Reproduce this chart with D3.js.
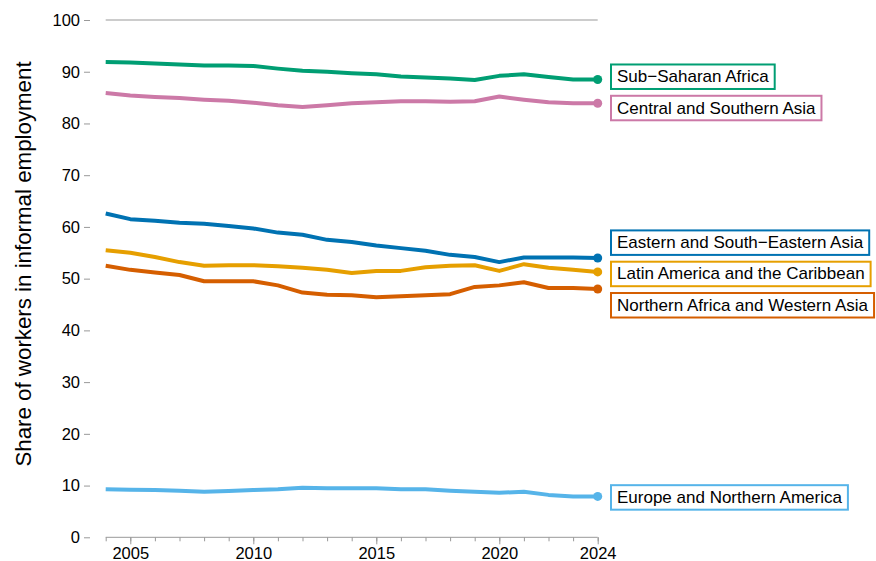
<!DOCTYPE html>
<html>
<head>
<meta charset="utf-8">
<script src="https://cdn.jsdelivr.net/npm/d3@7"></script>
<style>
  html, body { margin: 0; padding: 0; background: #fff; }
  svg { display: block; font-family: "Liberation Sans", Arial, Helvetica, sans-serif; }
</style>
</head>
<body>
<svg id="chart" width="876" height="561"></svg>
<script>
const years = d3.range(2004, 2025);
const regions = [
  "Sub\u2212Saharan Africa",
  "Central and Southern Asia",
  "Eastern and South\u2212Eastern Asia",
  "Latin America and the Caribbean",
  "Northern Africa and Western Asia",
  "Europe and Northern America"
];
const colors = ["#009E73", "#CC79A7", "#0072B2", "#E69F00", "#D55E00", "#56B4E9"];
const subSaharan = [91.9, 91.8, 91.6, 91.4, 91.2, 91.2, 91.1, 90.6, 90.2, 90.0, 89.7, 89.5, 89.1, 88.9, 88.7, 88.4, 89.2, 89.5, 89.0, 88.5, 88.5];
const centralSouthernAsia = [85.9, 85.4, 85.1, 84.9, 84.6, 84.4, 84.0, 83.5, 83.2, 83.5, 83.9, 84.1, 84.3, 84.3, 84.2, 84.3, 85.2, 84.6, 84.1, 83.9, 83.9];
const easternSEAsia = [62.6, 61.5, 61.2, 60.8, 60.6, 60.2, 59.7, 58.9, 58.5, 57.5, 57.1, 56.4, 55.9, 55.4, 54.6, 54.2, 53.2, 54.1, 54.1, 54.1, 54.0];
const latinAmerica = [55.5, 55.0, 54.2, 53.2, 52.5, 52.6, 52.6, 52.4, 52.1, 51.7, 51.1, 51.5, 51.5, 52.2, 52.5, 52.6, 51.5, 52.8, 52.1, 51.7, 51.3];
const northAfricaWAsia = [52.5, 51.7, 51.2, 50.7, 49.5, 49.5, 49.5, 48.7, 47.3, 46.9, 46.8, 46.4, 46.6, 46.8, 47.0, 48.4, 48.7, 49.3, 48.2, 48.2, 48.0];
const europeNAmerica = [9.3, 9.2, 9.15, 9.0, 8.8, 8.95, 9.15, 9.3, 9.6, 9.5, 9.5, 9.5, 9.3, 9.3, 9.0, 8.8, 8.6, 8.8, 8.2, 7.9, 7.9];
const seriesValues = [subSaharan, centralSouthernAsia, easternSEAsia, latinAmerica, northAfricaWAsia, europeNAmerica];
const yTicks = [0, 10, 20, 30, 40, 50, 60, 70, 80, 90, 100];
const xTickLabels = [2005, 2010, 2015, 2020, 2024];
const yTitle = "Share of workers in informal employment";

const svg = d3.select("#chart");
const x = d3.scaleLinear().domain([2004, 2024]).range([105.7, 597.7]);
const y = d3.scaleLinear().domain([0, 100]).range([537.3, 20]);

const gray = "#999999";

// y axis (ticks only)
const yAxis = svg.append("g").attr("transform", "translate(90,0)")
  .call(d3.axisLeft(y).tickValues(yTicks).tickSize(6).tickPadding(4));
yAxis.select(".domain").remove();
yAxis.selectAll("line").attr("stroke", gray);
yAxis.selectAll("text").attr("font-size", 16.5).attr("fill", "#000").attr("font-family", null);

// reference line at 100
svg.append("line")
  .attr("x1", x(2004)).attr("x2", x(2024))
  .attr("y1", y(100)).attr("y2", y(100))
  .attr("stroke", gray).attr("stroke-width", 1);

// x axis: minor ticks every year
const xg = svg.append("g").attr("transform", `translate(0,${y(0)})`);
xg.call(d3.axisBottom(x).tickValues(years).tickSize(4).tickFormat(""));
xg.select(".domain").attr("stroke", gray).attr("d", `M${x(2004)},0H${x(2024)}`);
xg.selectAll("line").attr("stroke", gray);
const xgMajor = svg.append("g").attr("transform", `translate(0,${y(0)})`);
xgMajor.call(d3.axisBottom(x).tickValues(xTickLabels).tickSize(7).tickPadding(3).tickFormat(d3.format("d")));
xgMajor.select(".domain").remove();
xgMajor.selectAll("line").attr("stroke", gray);
xgMajor.selectAll("text").attr("font-size", 16.5).attr("fill", "#000").attr("font-family", null);

// y title
svg.append("text")
  .attr("transform", "translate(23,264) rotate(-90)")
  .attr("text-anchor", "middle")
  .attr("dominant-baseline", "central")
  .attr("font-size", 22.3)
  .attr("fill", "#000")
  .text(yTitle);

// lines
const line = d3.line().x((d, i) => x(years[i])).y(d => y(d));
seriesValues.forEach((vals, k) => {
  svg.append("path")
    .datum(vals)
    .attr("d", line)
    .attr("fill", "none")
    .attr("stroke", colors[k])
    .attr("stroke-width", 4)
    .attr("stroke-linejoin", "round");
  svg.append("circle")
    .attr("cx", x(2024)).attr("cy", y(vals[vals.length - 1]))
    .attr("r", 4.5).attr("fill", colors[k]);
});

// labels with simple repel
const boxH = 24.5, pitch = 31.3, labelShift = 1;
let items = seriesValues.map((vals, k) => ({ k, target: y(vals[vals.length - 1]) }))
  .sort((a, b) => a.target - b.target);
let clusters = items.map(d => ({ members: [d], center: d.target }));
let merged = true;
while (merged) {
  merged = false;
  for (let i = 0; i < clusters.length - 1; i++) {
    const a = clusters[i], b = clusters[i + 1];
    const aBottom = a.center + (a.members.length - 1) * pitch / 2;
    const bTop = b.center - (b.members.length - 1) * pitch / 2;
    if (bTop - aBottom < pitch) {
      const members = a.members.concat(b.members);
      const center = d3.mean(members, m => m.target);
      clusters.splice(i, 2, { members, center });
      merged = true;
      break;
    }
  }
}
clusters.forEach(c => {
  c.members.forEach((m, i) => {
    m.cy = c.center + (i - (c.members.length - 1) / 2) * pitch + labelShift;
  });
});

const boxX = 611;
items.forEach(m => {
  const g = svg.append("g");
  const t = g.append("text")
    .attr("x", boxX + 6)
    .attr("y", m.cy)
    .attr("dominant-baseline", "central")
    .attr("font-size", 17)
    .attr("fill", "#000")
    .text(regions[m.k]);
  const w = t.node().getComputedTextLength();
  g.insert("rect", "text")
    .attr("x", boxX).attr("y", m.cy - boxH / 2)
    .attr("width", w + 12).attr("height", boxH)
    .attr("fill", "#fff")
    .attr("stroke", colors[m.k]).attr("stroke-width", 2);
});
</script>
</body>
</html>
